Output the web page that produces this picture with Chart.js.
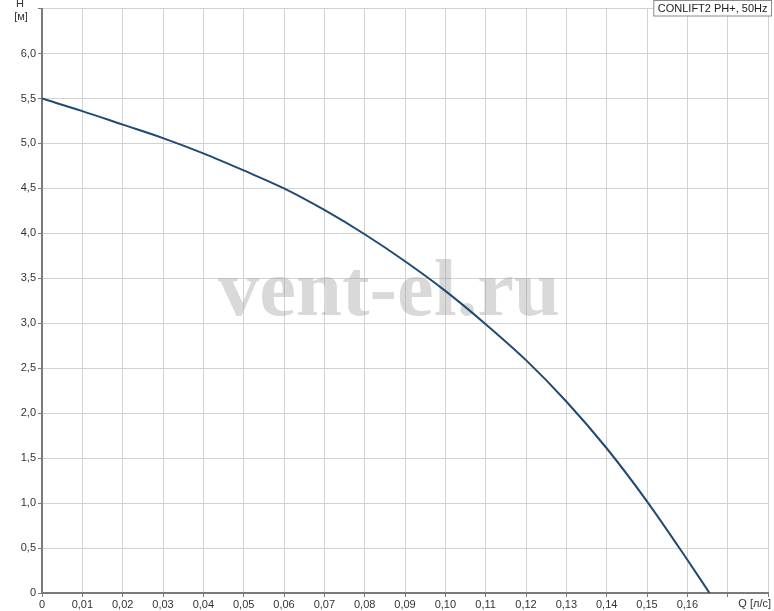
<!DOCTYPE html>
<html>
<head>
<meta charset="utf-8">
<script src="https://cdn.jsdelivr.net/npm/chart.js@4/dist/chart.umd.min.js"></script>
<style>
  html, body { margin: 0; padding: 0; background: #fff; }
  #wrap { width: 774px; height: 611px; }
</style>
</head>
<body>
<div id="wrap"><canvas id="pump"></canvas></div>
<script>
// PUMP CURVE DATA
const flowQ = [0, 0.01, 0.02, 0.03, 0.04, 0.05, 0.06, 0.07, 0.08, 0.09, 0.10, 0.11, 0.12, 0.13, 0.14, 0.15, 0.16, 0.1655];
const headH = [5.5, 5.36, 5.21, 5.06, 4.89, 4.70, 4.50, 4.26, 3.99, 3.69, 3.36, 2.99, 2.59, 2.13, 1.61, 1.02, 0.37, 0];
const seriesName = 'CONLIFT2 PH+, 50Hz';
const xTitle = 'Q [л/с]';
const yTitle = ['H', '[м]'];
const watermark = 'vent-el.ru';

const FONT = '"Liberation Sans", Arial, sans-serif';

// axis titles, legend box, watermark
const extras = {
    id: 'extras',
    beforeDatasetsDraw(chart){
        let ctx = chart.ctx;
        let area = chart.chartArea;
        ctx.save();
        ctx.font = 'bold 80px "Liberation Serif", "DejaVu Serif", serif';
        let w = ctx.measureText(watermark).width;
        let cx = area.left + (area.right - area.left) * 0.478;
        let cy = area.top + (area.bottom - area.top) * 0.524;
        ctx.translate(cx, cy);
        ctx.scale(342 / w, 1);
        ctx.fillStyle = 'rgba(150,150,150,0.36)';
        ctx.textAlign = 'center';
        ctx.textBaseline = 'alphabetic';
        ctx.fillText(watermark, 0, 0);
        ctx.restore();
    },
    afterDraw(chart){
        let ctx = chart.ctx;
        let area = chart.chartArea;
        ctx.save();
        ctx.font = '11px ' + FONT;
        ctx.fillStyle = '#333';
        ctx.textAlign = 'center';
        ctx.textBaseline = 'middle';
        // H [м]
        ctx.fillText(yTitle[0], area.left - 22, area.top - 5);
        ctx.fillText(yTitle[1], area.left - 21, area.top + 8);
        // Q [л/с]
        ctx.textAlign = 'right';
        ctx.fillText(xTitle, chart.width - 3, area.bottom + 11);
        // legend box
        let tw = ctx.measureText(seriesName).width;
        let right = chart.width - 2.5;
        let left = right - tw - 8;
        ctx.fillStyle = '#fff';
        ctx.fillRect(left, 0, right - left, 16);
        ctx.strokeStyle = '#8a8a8a';
        ctx.lineWidth = 1;
        ctx.strokeRect(left, 0.5, right - left, 15.5);
        ctx.fillStyle = '#222';
        ctx.textAlign = 'left';
        ctx.fillText(seriesName, left + 4, 8.5);
        ctx.restore();
    }
};

function plotCurve(chartElement){
    let ctx = document.getElementById(chartElement).getContext('2d');
    let points = flowQ.map((q, i) => ({x: q, y: headH[i]}));
    return new Chart(ctx, {
        type: 'line',
        data: {
            datasets: [{
                label: seriesName,
                data: points,
                borderColor: '#1f4a73',
                borderWidth: 2,
                pointRadius: 0,
                fill: false,
                cubicInterpolationMode: 'monotone'
            }]
        },
        options: {
            responsive: true,
            maintainAspectRatio: false,
            animation: false,
            layout: { padding: { top: 8, right: 6, left: 0, bottom: 0 } },
            plugins: {
                legend: { display: false },
                tooltip: { enabled: false }
            },
            scales: {
                x: {
                    type: 'linear',
                    min: 0,
                    max: 0.18,
                    afterFit: s => { s.height = 18; },
                    ticks: {
                        stepSize: 0.01,
                        padding: 1,
                        maxRotation: 0,
                        autoSkip: false,
                        color: '#333',
                        font: { family: FONT, size: 11 },
                        callback: v => {
                            let n = Math.round(v * 100);
                            if (n === 0) return '0';
                            if (n >= 17) return '';
                            return (n / 100).toFixed(2).replace('.', ',');
                        }
                    },
                    grid: { color: '#d3d3d3', lineWidth: 1, tickLength: 4, tickColor: '#7a7a7a' },
                    border: { color: '#7a7a7a', width: 2 }
                },
                y: {
                    type: 'linear',
                    min: 0,
                    max: 6.5,
                    afterFit: s => { s.width = 42; },
                    ticks: {
                        stepSize: 0.5,
                        padding: 2,
                        color: '#333',
                        font: { family: FONT, size: 11 },
                        callback: v => {
                            let n = Math.round(v * 10);
                            if (n === 0) return '0';
                            if (n >= 65) return '';
                            return (n / 10).toFixed(1).replace('.', ',');
                        }
                    },
                    grid: { color: '#d3d3d3', lineWidth: 1, tickLength: 4, tickColor: '#7a7a7a' },
                    border: { color: '#7a7a7a', width: 2 }
                }
            }
        },
        plugins: [extras]
    });
};

plotCurve('pump');
</script>
</body>
</html>
